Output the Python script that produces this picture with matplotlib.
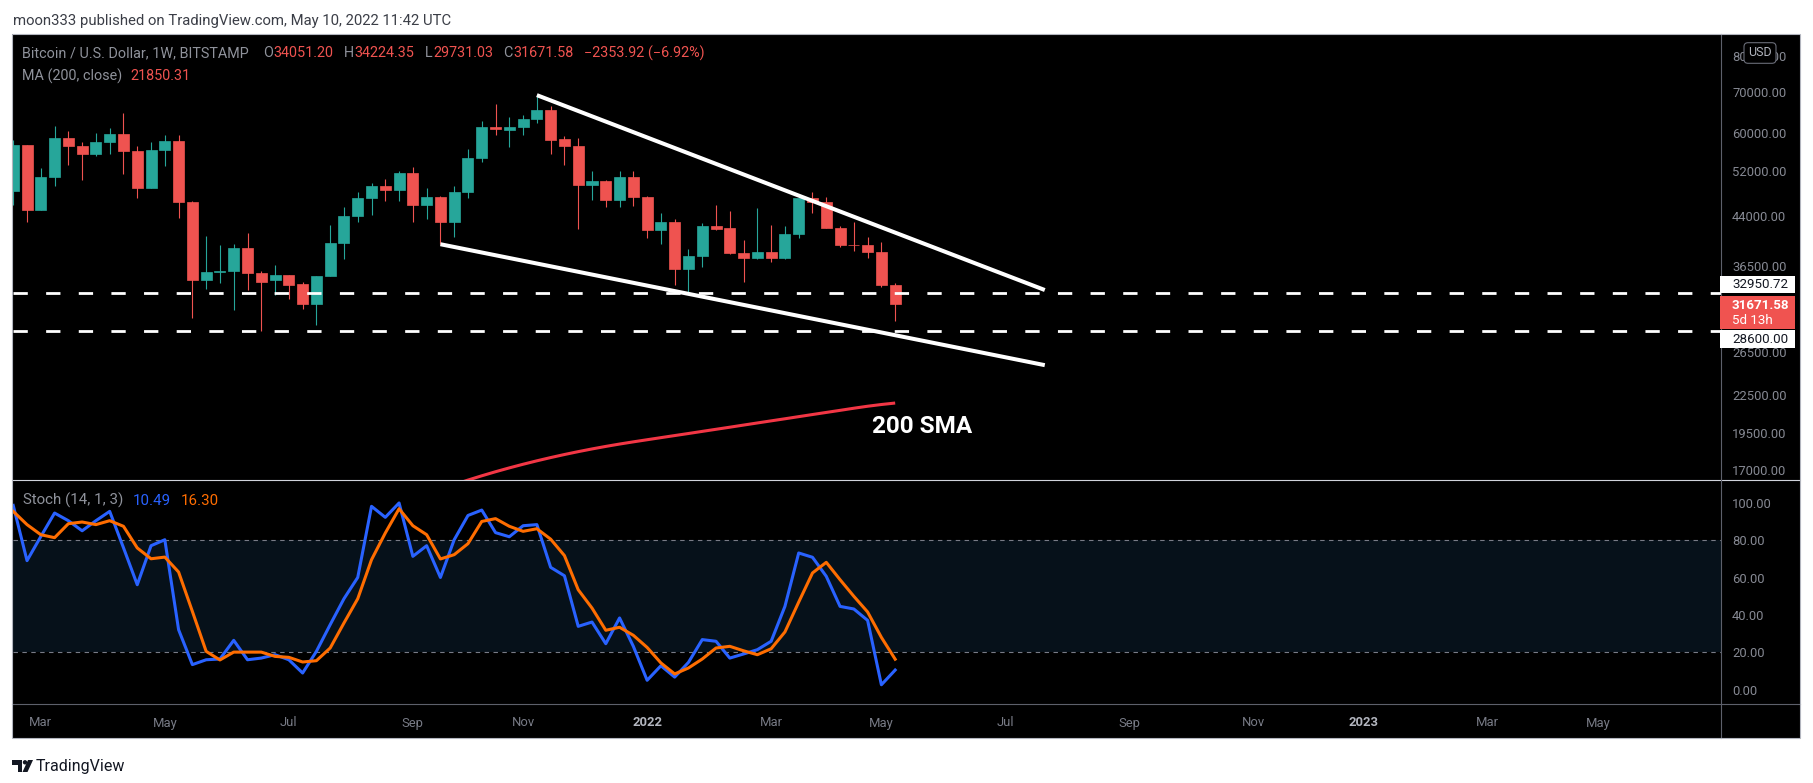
import datetime as dt
import matplotlib
matplotlib.use("Agg")
import matplotlib.pyplot as plt
import matplotlib.dates as mdates
from matplotlib.patches import Rectangle, FancyBboxPatch, Polygon, Circle
from matplotlib.lines import Line2D
from matplotlib.transforms import IdentityTransform
from matplotlib.ticker import NullLocator, NullFormatter
import numpy as np

plt.rcParams['font.family'] = ['Roboto', 'DejaVu Sans']

# ---------------- data ----------------
week_dates = [
    "2021-02-15", "2021-02-22", "2021-03-01", "2021-03-08", "2021-03-15", "2021-03-22", "2021-03-29",
    "2021-04-05", "2021-04-12", "2021-04-19", "2021-04-26", "2021-05-03", "2021-05-10", "2021-05-17",
    "2021-05-24", "2021-05-31", "2021-06-07", "2021-06-14", "2021-06-21", "2021-06-28", "2021-07-05",
    "2021-07-12", "2021-07-19", "2021-07-26", "2021-08-02", "2021-08-09", "2021-08-16", "2021-08-23",
    "2021-08-30", "2021-09-06", "2021-09-13", "2021-09-20", "2021-09-27", "2021-10-04", "2021-10-11",
    "2021-10-18", "2021-10-25", "2021-11-01", "2021-11-08", "2021-11-15", "2021-11-22", "2021-11-29",
    "2021-12-06", "2021-12-13", "2021-12-20", "2021-12-27", "2022-01-03", "2022-01-10", "2022-01-17",
    "2022-01-24", "2022-01-31", "2022-02-07", "2022-02-14", "2022-02-21", "2022-02-28", "2022-03-07",
    "2022-03-14", "2022-03-21", "2022-03-28", "2022-04-04", "2022-04-11", "2022-04-18", "2022-04-25",
    "2022-05-02", "2022-05-09",
]
opens = [48400, 57400, 45050, 50950, 58900, 57200, 55600, 58000, 59900, 56200, 48950, 56400, 58250, 46400,
         34700, 35650, 35800, 39050, 35600, 34600, 35250, 34100, 31650, 35200, 39800, 44000, 47100, 49250,
         48600, 51700, 45850, 47250, 43100, 48150, 54700, 61500, 60800, 61500, 63200, 65450, 58700, 57300,
         49400, 50100, 46650, 51000, 47300, 41800, 43050, 36150, 37850, 42400, 42100, 38300, 37600, 38500,
         37600, 41100, 47000, 46400, 42150, 39550, 39450, 38450, 34051.20]
highs = [58400, 57500, 52600, 61600, 60600, 58000, 60150, 61100, 64700, 57300, 58000, 59600, 59600, 46600,
         40850, 39500, 39600, 41300, 35800, 36650, 35300, 34400, 35200, 42600, 45500, 48100, 49800, 50500,
         52000, 52900, 48800, 47350, 49200, 56500, 62900, 66950, 63700, 64300, 69000, 66400, 59300, 59000,
         52100, 50300, 52100, 52100, 47500, 44450, 43500, 38900, 42800, 45800, 44800, 40300, 45300, 42500,
         42400, 47100, 48150, 47250, 42400, 43050, 40750, 40000, 34224.35]
lows = [45800, 43060, 44950, 49300, 53300, 50450, 55000, 55600, 51500, 47000, 48800, 53000, 43700, 30050,
        33450, 34300, 31000, 33400, 28630, 32700, 32300, 31100, 29250, 35100, 37400, 43000, 44100, 46600,
        46600, 43000, 43500, 39600, 40750, 47000, 53900, 59500, 57000, 59600, 62300, 55600, 53300, 41950,
        46750, 45550, 45550, 45700, 40500, 39700, 34000, 32950, 36300, 41700, 38200, 34350, 37500, 37100,
        37500, 40500, 44550, 42100, 39200, 38600, 37650, 33800, 29731.03]
closes = [57400, 45050, 50950, 58900, 57200, 55600, 58000, 59900, 56100, 48950, 56400, 58250, 46400, 34700,
          35700, 35800, 39050, 35500, 34400, 35250, 33950, 31650, 35200, 39800, 44000, 47100, 49250, 48600,
          51700, 45850, 47250, 43100, 48150, 54700, 61500, 60900, 61500, 63200, 65450, 58600, 57200, 49400,
          50200, 46650, 51000, 47300, 41800, 43050, 36150, 37850, 42400, 42000, 38250, 37600, 38500, 37600,
          41100, 47000, 46350, 42150, 39550, 39450, 38450, 34025.50, 31671.58]

ma_dates = week_dates[31:]
ma_values = [15815, 16100, 16375, 16640, 16895, 17140, 17375, 17600, 17815, 18020, 18215, 18400, 18575,
             18740, 18895, 19045, 19195, 19345, 19495, 19650, 19805, 19960, 20120, 20280, 20440, 20600,
             20765, 20930, 21095, 21260, 21430, 21590, 21730, 21850.31]

stoch_k = [98.7, 69.1, 82.0, 94.6, 90.5, 85.1, 90.5, 95.5, 76.0, 56.2, 77.1, 80.3, 32.1, 13.4, 16.0, 16.4,
           26.4, 16.0, 16.9, 18.7, 16.0, 8.9, 20.5, 34.8, 48.7, 60.1, 98.2, 92.3, 100.0, 71.4, 77.1, 60.1,
           80.3, 93.3, 96.2, 84.1, 81.9, 87.8, 88.4, 65.5, 61.0, 33.9, 36.2, 24.6, 38.4, 23.2, 5.0, 12.8,
           6.7, 14.6, 26.8, 25.9, 16.9, 19.1, 21.4, 25.9, 44.6, 73.2, 70.9, 60.7, 44.6, 43.2, 37.1, 2.6, 10.49]
stoch_d = [95.5, 88.4, 83.0, 81.4, 88.9, 89.8, 88.4, 90.5, 87.5, 75.9, 70.1, 71.0, 63.0, 41.9, 20.5, 15.9,
           20.1, 20.1, 20.1, 17.8, 17.3, 14.8, 15.5, 22.3, 35.7, 48.7, 69.6, 83.9, 96.9, 87.8, 83.0, 70.0,
           72.3, 78.2, 90.1, 91.6, 87.5, 84.8, 86.2, 80.6, 71.8, 53.5, 43.7, 31.8, 33.4, 29.1, 22.6, 14.3,
           8.4, 11.6, 16.4, 22.3, 23.2, 20.8, 18.7, 21.9, 30.9, 46.9, 62.5, 68.2, 58.9, 50.0, 41.6, 28.0, 16.30]

support_levels = [32950.72, 28600.00]
upper_trend_dates = ["2021-11-08", "2022-07-24"]
upper_trend_prices = [69200, 33360]
lower_trend_dates = ["2021-09-20", "2022-07-24"]
lower_trend_prices = [39600, 25180]

price_ticks = [80000, 70000, 60000, 52000, 44000, 36500, 26500, 22500, 19500, 17000]
stoch_ticks = [100, 80, 60, 40, 20, 0]
time_tick_dates = ["2021-03-01", "2021-05-03", "2021-07-05", "2021-09-06", "2021-11-01", "2022-01-03",
                   "2022-03-07", "2022-05-02", "2022-07-04", "2022-09-05", "2022-11-07", "2023-01-02",
                   "2023-03-06", "2023-05-01", "2023-07-03"]
time_tick_labels = ["Mar", "May", "Jul", "Sep", "Nov", "2022", "Mar", "May", "Jul", "Sep", "Nov", "2023",
                    "Mar", "May", "Jul"]

# ---------------- style ----------------
W, H, DPI = 1813, 783, 100
GREEN, RED = '#26A69A', '#EF5350'
BLUE, ORANGE = '#2962FF', '#FF6D00'
AXIS_TXT = '#868993'
LEG_TXT = '#8f929b'
LEG_FS = 10.4

def dnum(s):
    return mdates.date2num(dt.datetime.strptime(s, "%Y-%m-%d"))

x = np.array([dnum(d) for d in week_dates])
o, h, l, c = map(np.array, (opens, highs, lows, closes))

fig = plt.figure(figsize=(W / DPI, H / DPI), dpi=DPI, facecolor='white')
ID = IdentityTransform()
renderer = fig.canvas.get_renderer()

def rect(x0, y0, x1, y1, **kw):
    fig.add_artist(Rectangle((x0, H - y1), x1 - x0, y1 - y0, transform=ID, **kw))

def seg(x0, y0, x1, y1, **kw):
    fig.add_artist(Line2D([x0, x1], [H - y0, H - y1], transform=ID, **kw))

def ftext(px, py, s, **kw):
    kw.setdefault('va', 'center')
    kw.setdefault('ha', 'left')
    return fig.text(px / W, 1 - py / H, s, **kw)

def seq_text(px, py, pieces, fs):
    for s, color, gap in pieces:
        t = ftext(px, py, s, color=color, fontsize=fs)
        bb = t.get_window_extent(renderer)
        px = bb.x1 + gap

# chart background
rect(12, 34, 1800, 738, facecolor='black', edgecolor='none', zorder=-5)

# ---------------- price pane ----------------
ax = fig.add_axes([13 / W, 1 - 480 / H, (1721 - 13) / W, (480 - 34) / H])
ax.set_facecolor('black')
for s in ax.spines.values():
    s.set_visible(False)
ax.set_yscale('log')
x0 = dnum("2021-03-01")
ax.set_xlim(x0 - 14.12, x0 + 853.5)

col = [GREEN if cc >= oo else RED for oo, cc in zip(o, c)]
ax.vlines(x, l, h, colors=col, linewidth=0.8, zorder=2)
ax.bar(x, np.abs(c - o), bottom=np.minimum(o, c), width=5.6, color=col, edgecolor=col,
       linewidth=0.5, zorder=3)

ax.plot([dnum(d) for d in ma_dates], ma_values, color='#F23645', lw=2.2, zorder=2.5,
        solid_capstyle='butt', solid_joinstyle='round')

for lv in support_levels:
    ax.axhline(lv, color='white', lw=2.0, linestyle=(0, (5.15, 6.6)), zorder=4)

ax.plot([dnum(d) for d in upper_trend_dates], upper_trend_prices, color='white', lw=2.9,
        zorder=5, solid_capstyle='butt')
ax.plot([dnum(d) for d in lower_trend_dates], lower_trend_prices, color='white', lw=2.9,
        zorder=5, solid_capstyle='butt')

ax.text(x0 + 422.2, 20050, '200 SMA', color='white', fontsize=17.5, fontweight='bold',
        va='center', ha='left', zorder=6)

ax.yaxis.tick_right()
ax.set_yticks(price_ticks)
ax.set_yticklabels([f"{t:.2f}" for t in price_ticks])
ax.yaxis.set_minor_locator(NullLocator())
ax.yaxis.set_minor_formatter(NullFormatter())
ax.set_ylim(16380, 87000)
ax.tick_params(axis='y', which='both', length=0, pad=8, labelsize=9.4, labelcolor=AXIS_TXT)
ax.tick_params(axis='x', which='both', bottom=False, labelbottom=False)

# ---------------- stochastic pane ----------------
ax2 = fig.add_axes([13 / W, 1 - 704 / H, (1721 - 13) / W, 224 / H], sharex=ax)
ax2.set_facecolor('black')
for s in ax2.spines.values():
    s.set_visible(False)
ax2.set_ylim(-7.7, 112.3)
ax2.axhspan(20, 80, color='#06111A', zorder=0, lw=0)
for lv in (80, 20):
    ax2.axhline(lv, color='#787B86', lw=0.8, linestyle=(0, (4, 4)), zorder=1)
ax2.plot(x, stoch_k, color=BLUE, lw=2.2, zorder=3)
ax2.plot(x, stoch_d, color=ORANGE, lw=2.2, zorder=4)
ax2.yaxis.tick_right()
ax2.set_yticks(stoch_ticks)
ax2.set_yticklabels([f"{t:.2f}" for t in stoch_ticks])
ax2.tick_params(axis='y', length=0, pad=8, labelsize=9.4, labelcolor=AXIS_TXT)
ax2.set_xticks([dnum(d) for d in time_tick_dates])
ax2.set_xticklabels(time_tick_labels)
ax2.tick_params(axis='x', length=0, pad=9, labelsize=9.4, labelcolor='#787B86')
for t in ax2.get_xticklabels():
    if t.get_text().isdigit():
        t.set_fontweight('bold')
        t.set_color('#B2B5BE')
ax.set_xlim(x0 - 14.12, x0 + 853.5)

# ---------------- overlays ----------------
rect(1721.5, 704.5, 1799.5, 737.5, facecolor='black', edgecolor='none', zorder=4)
seg(12, 480, 1800, 480, color='#D1D4DC', lw=0.8, zorder=5)
seg(1721, 34, 1721, 738, color='#5D606B', lw=0.8, zorder=5)
seg(12, 704, 1800, 704, color='#5D606B', lw=0.8, zorder=5)
rect(12, 34, 1800, 738, facecolor='none', edgecolor='#B2B5BE', lw=0.8, zorder=7)

# price labels
rect(1720, 275.7, 1795, 293.3, facecolor='white', edgecolor='none', zorder=6)
ftext(1732, 284.8, f"{support_levels[0]:.2f}", color='#131722', fontsize=9.6, zorder=8)
rect(1720, 295.7, 1795, 329, facecolor='#F05350', edgecolor='none', zorder=6)
ftext(1732, 305.3, f"{closes[-1]:.2f}", color='white', fontsize=9.6, fontweight='bold', zorder=8)
ftext(1732, 320.8, "5d 13h", color='white', fontsize=9.6, zorder=8)
rect(1720, 330, 1795, 348.3, facecolor='white', edgecolor='none', zorder=6)
ftext(1732, 339.6, f"{support_levels[1]:.2f}", color='#131722', fontsize=9.6, zorder=8)

# USD badge
fig.add_artist(FancyBboxPatch((1744, H - 63.3), 32, 20.6, boxstyle='round,pad=0,rounding_size=4',
                              transform=ID, facecolor='black', edgecolor='#6A6D78', lw=0.8, zorder=6))
ftext(1760, 53, "USD", color='#B2B5BE', fontsize=9, ha='center', zorder=8)

# legends
ftext(13.4, 20.5, "moon333 published on TradingView.com, May 10, 2022 11:42 UTC", color='#3b3e47',
      fontsize=10.7)
chg = closes[-1] - closes[-2]
pct = chg / closes[-2] * 100
seq_text(22, 53, [
    ("Bitcoin / U.S. Dollar, 1W, BITSTAMP", LEG_TXT, 14),
    ("O", LEG_TXT, 1), (f"{opens[-1]:.2f}", RED, 10),
    ("H", LEG_TXT, 1), (f"{highs[-1]:.2f}", RED, 10),
    ("L", LEG_TXT, 1), (f"{lows[-1]:.2f}", RED, 10),
    ("C", LEG_TXT, 1), (f"{closes[-1]:.2f}", RED, 10),
    (f"\u2212{abs(chg):.2f} (\u2212{abs(pct):.2f}%)", RED, 0),
], LEG_FS)
seq_text(22, 76, [("MA (200, close)", LEG_TXT, 8), (f"{ma_values[-1]:.2f}", RED, 0)], LEG_FS)
seq_text(22.7, 500.7, [("Stoch (14, 1, 3)", LEG_TXT, 10), (f"{stoch_k[-1]:.2f}", BLUE, 10),
                       (f"{stoch_d[-1]:.2f}", ORANGE, 0)], 10.9)

# TradingView logo
LOGO = '#131722'
fig.add_artist(Polygon([(12, H - 760), (22, H - 760), (22, H - 772), (17.5, H - 772), (17.5, H - 764.5),
                        (12, H - 764.5)], closed=True, transform=ID, facecolor=LOGO, edgecolor='none'))
fig.add_artist(Circle((25, H - 762.3), 2.2, transform=ID, facecolor=LOGO, edgecolor='none'))
fig.add_artist(Polygon([(28, H - 760), (33, H - 760), (27.5, H - 772), (22.5, H - 772)], closed=True,
                       transform=ID, facecolor=LOGO, edgecolor='none'))
ftext(36, 766, "TradingView", color=LOGO, fontsize=11.5)

fig.savefig("out.png", dpi=DPI, facecolor='white')
